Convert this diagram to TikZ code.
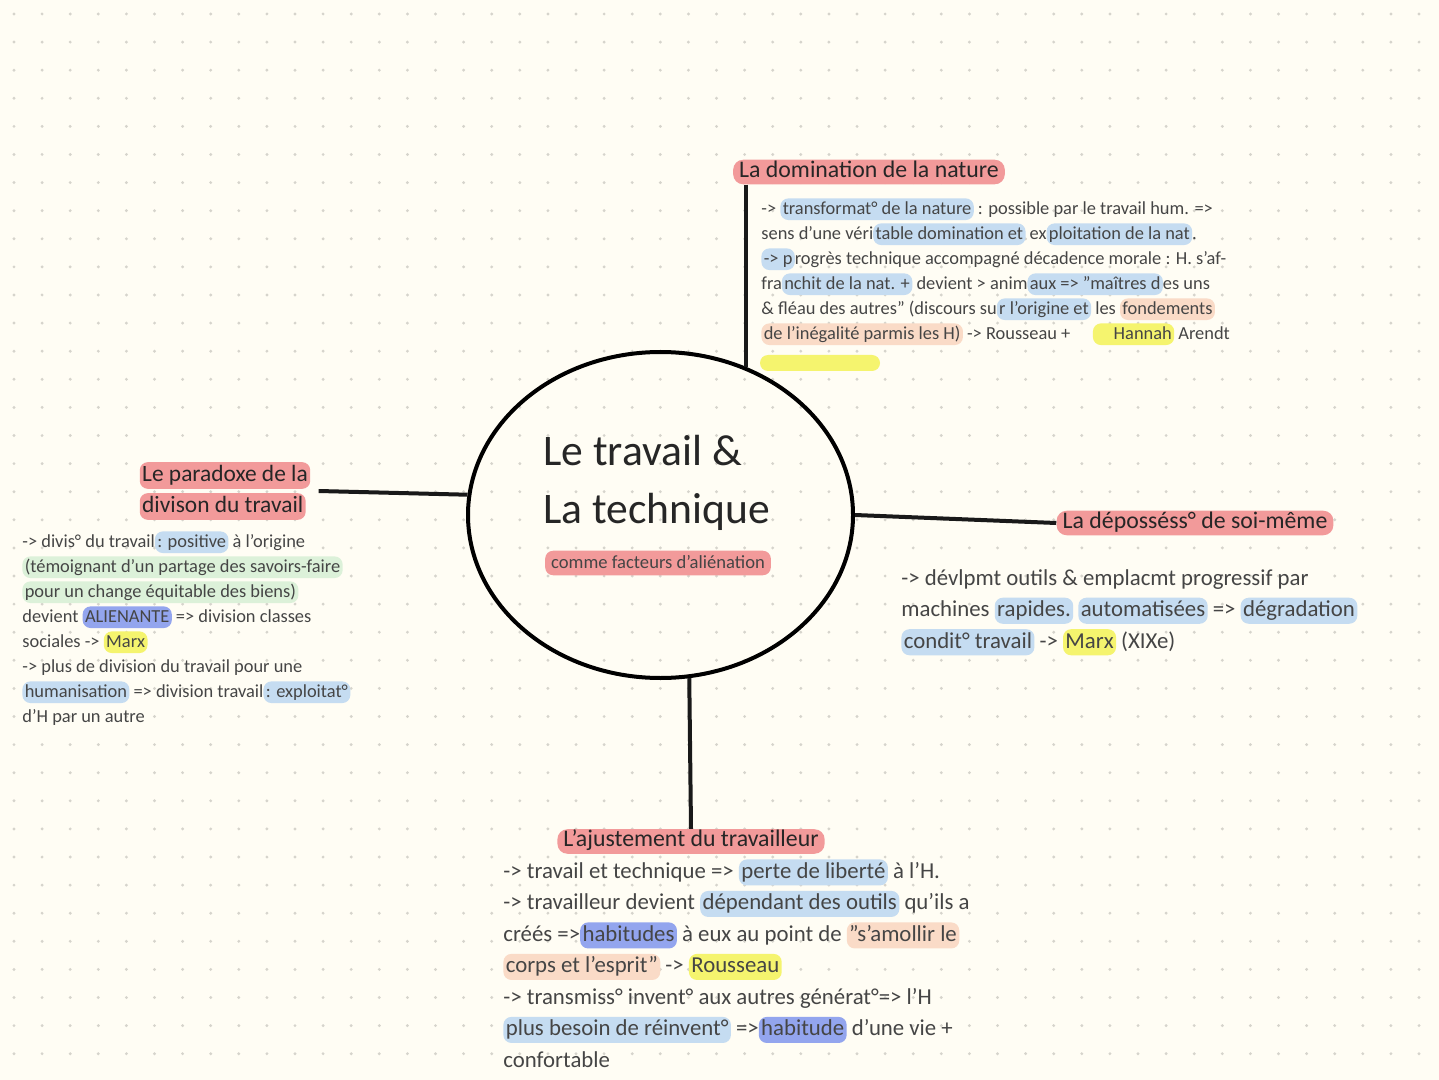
\documentclass[tikz,border=0pt]{standalone}
\usepackage{fontspec}
\setmainfont{Carlito}
\usetikzlibrary{shapes.geometric,positioning}
\definecolor{paper}{HTML}{FFFDF4}
\definecolor{dotgray}{HTML}{D6D4CC}
\definecolor{hlred}{HTML}{F29A9A}
\definecolor{hlblue}{HTML}{C5DCF1}
\definecolor{hlpurple}{HTML}{93A5EE}
\definecolor{hlgreen}{HTML}{DCF1D9}
\definecolor{hlpeach}{HTML}{FADBC7}
\definecolor{hlyellow}{HTML}{F5F46E}
\definecolor{ink}{HTML}{454545}
\tikzset{hlbox/.style={inner xsep=1.2pt, inner ysep=0.8pt, text height=1.6ex, text depth=0.5ex, rounded corners=4pt, outer sep=0pt}}
\newcommand{\hlt}[2]{\tikz[baseline=(hl.base)]\node[hlbox,fill=#1](hl){#2};}
\newcommand{\dq}{\char"22\relax}

\begin{document}
\begin{tikzpicture}[x=0.5pt,y=-0.5pt]
\tikzstyle{head}=[fill=hlred, rounded corners=5pt, inner xsep=3pt, inner ysep=1pt, text height=1.6ex, text depth=0.55ex, font=\fontsize{11.9}{13}\selectfont, text=black!85]
\tikzstyle{small}=[inner sep=0pt, align=left, text=ink, font=\fontsize{9.2}{12.5}\selectfont]
\tikzstyle{big}=[inner sep=0pt, align=left, text=ink, font=\fontsize{11.4}{15.75}\selectfont]
\tikzstyle{branch}=[line width=2pt, black!90]
% paper
\fill[paper] (0,0) rectangle (1439,1080);
\useasboundingbox (0,0) rectangle (1439,1080);
\foreach \x in {14,42.1,...,1439} \foreach \y in {14,42.1,...,1080} \fill[dotgray] (\x,\y) circle[radius=0.8pt];
% centre
\node[ellipse, draw, line width=2pt, minimum width=192.5pt, minimum height=163pt, inner sep=0pt](ctr) at (660.5,515) {};
\node[anchor=base west, inner sep=0pt, align=left, font=\fontsize{21.8}{29}\selectfont, text=black!85](title) at (543,523) {Le travail \&\\La technique};
\node[head, font=\fontsize{9.3}{10}\selectfont, text=ink, rounded corners=4pt](sub) at (658,563) {comme facteurs d'aliénation};
% headings
\node[head](dom) at (869,172) {La domination de la nature};
\node[inner sep=0pt, align=left, font=\fontsize{11.7}{15.5}\selectfont, text=black!85](para) at (225,491) {\hlt{hlred}{Le paradoxe de la}\\\hlt{hlred}{divison du travail}};
\node[head](dep) at (1195,523) {La déposséss° de soi-même};
\node[head](aju) at (691,841.5) {L'ajustement du travailleur};
% notes
\node[small, anchor=north west](dombody) at (761,198) {-> \hlt{hlblue}{transformat° de la nature} : possible par le travail hum. =>\\
sens d'une véri\hlt{hlblue}{table domination et} ex\hlt{hlblue}{ploitation de la nat}.\\
\hlt{hlblue}{-> p}rogrès technique accompagné décadence morale : H. s'af-\\
fra\hlt{hlblue}{nchit de la nat. +} devient > anim\hlt{hlblue}{aux => \dq maîtres d}es uns\\
\& fléau des autres\dq{} (discours su\hlt{hlblue}{r l'origine et} les \hlt{hlpeach}{fondements}\\
\hlt{hlpeach}{de l'inégalité parmis les H)} -> Rousseau + \quad\hlt{hlyellow}{\quad Hannah} Arendt};
\fill[hlyellow, rounded corners=4pt] (760,355) rectangle (880,371);
\node[small, anchor=north west](parabody) at (22,531) {-> divis° du travail\hlt{hlblue}{: positive} à l'origine\\
\hlt{hlgreen}{(témoignant d'un partage des savoirs-faire}\\
\hlt{hlgreen}{pour un change équitable des biens)}\\
devient \hlt{hlpurple}{ALIENANTE} => division classes\\
sociales -> \hlt{hlyellow}{Marx}\\
-> plus de division du travail pour une\\
\hlt{hlblue}{humanisation} => division travail\hlt{hlblue}{: exploitat°}\\
d'H par un autre};
\node[big, anchor=north west](depbody) at (901,569) {-> dévlpmt outils \& emplacmt progressif par\\
machines \hlt{hlblue}{rapides.} \hlt{hlblue}{automatisées} => \hlt{hlblue}{dégradation}\\
\hlt{hlblue}{condit° travail} -> \hlt{hlyellow}{Marx} (XIXe)};
\node[big, anchor=north west](ajubody) at (503,859) {-> travail et technique => \hlt{hlblue}{perte de liberté} à l'H.\\
-> travailleur devient \hlt{hlblue}{dépendant des outils} qu'ils a\\
créés =>\hlt{hlpurple}{habitudes} à eux au point de \hlt{hlpeach}{\dq s'amollir le}\\
\hlt{hlpeach}{corps et l'esprit\dq} -> \hlt{hlyellow}{Rousseau}\\
-> transmiss° invent° aux autres générat°=> l'H\\
\hlt{hlblue}{plus besoin de réinvent°} =>\hlt{hlpurple}{ habitude} d'une vie +\\
confortable};
% branches
\draw[branch] ([xshift=6.5pt]dom.south west) -- ([xshift=6.5pt]dom.south west |- ctr.60);
\draw[branch] ([xshift=4pt]para.east) -- (ctr.174);
\draw[branch] (ctr.east) -- (dep.west);
\draw[branch] (aju.north) -- (ctr.-80);
\end{tikzpicture}
\end{document}
